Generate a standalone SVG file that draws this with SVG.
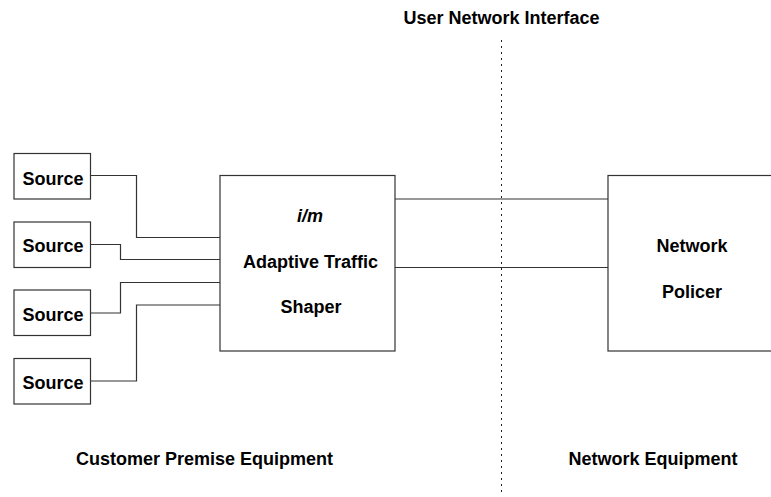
<svg xmlns="http://www.w3.org/2000/svg" width="771" height="497" viewBox="0 0 771 497">
  <style>
    .box { fill: #ffffff; stroke: #333333; stroke-width: 1.2; }
    .wire { fill: none; stroke: #333333; stroke-width: 1.2; }
    .boundary { fill: none; stroke: #222222; stroke-width: 1; stroke-dasharray: 2 4; }
    text { font-family: "Liberation Sans", Arial, sans-serif; font-weight: bold; font-size: 18px; fill: #000000; text-anchor: middle; }
    .it { font-style: italic; }
  </style>
  <rect width="771" height="497" fill="#ffffff"/>

  <!-- UNI boundary -->
  <g id="uni">
    <line class="boundary" x1="501.5" y1="40" x2="501.5" y2="495"/>
    <text x="501.5" y="24">User Network Interface</text>
  </g>

  <!-- Connectors -->
  <g id="connectors">
    <polyline class="wire" points="90.5,175.5 136.5,175.5 136.5,237.5 220,237.5"/>
    <polyline class="wire" points="90.5,244.5 120.5,244.5 120.5,259.5 220,259.5"/>
    <polyline class="wire" points="90.5,313 120.5,313 120.5,282.5 220,282.5"/>
    <polyline class="wire" points="90.5,381 136.5,381 136.5,305 220,305"/>
    <line class="wire" x1="395" y1="199" x2="608" y2="199"/>
    <line class="wire" x1="395" y1="267.5" x2="608" y2="267.5"/>
  </g>

  <!-- Sources -->
  <g id="source1">
    <rect class="box" x="14" y="153.5" width="76.5" height="45.5"/>
    <text x="53" y="184.5">Source</text>
  </g>
  <g id="source2">
    <rect class="box" x="14" y="222" width="76.5" height="45.5"/>
    <text x="53" y="252">Source</text>
  </g>
  <g id="source3">
    <rect class="box" x="14" y="290" width="76.5" height="45.5"/>
    <text x="53" y="320.5">Source</text>
  </g>
  <g id="source4">
    <rect class="box" x="14" y="358.5" width="76.5" height="45.5"/>
    <text x="53" y="388.5">Source</text>
  </g>

  <!-- Shaper -->
  <g id="shaper">
    <rect class="box" x="220" y="175.5" width="175" height="175.5"/>
    <text class="it" x="310" y="221.5">i/m</text>
    <text x="310.5" y="268">Adaptive Traffic</text>
    <text x="311" y="312.5">Shaper</text>
  </g>

  <!-- Policer -->
  <g id="policer">
    <rect class="box" x="608" y="175.5" width="175" height="175.5"/>
    <text x="692" y="251.5">Network</text>
    <text x="692" y="297.5">Policer</text>
  </g>

  <!-- Domain labels -->
  <g id="labels">
    <text x="204.5" y="465">Customer Premise Equipment</text>
    <text x="653" y="465">Network Equipment</text>
  </g>
</svg>
